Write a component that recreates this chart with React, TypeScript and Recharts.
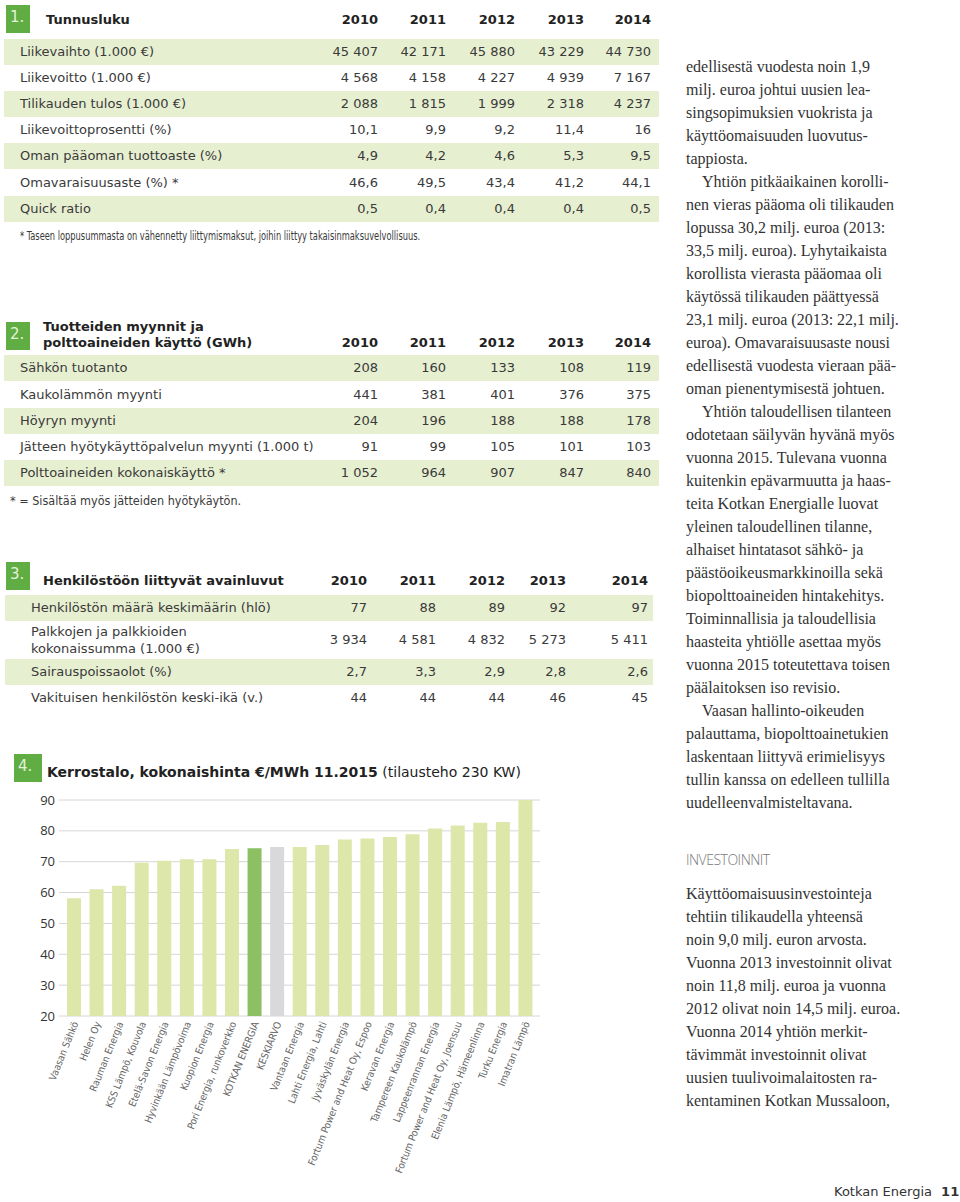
import React from 'react';
import { BarChart, Bar, XAxis, YAxis, CartesianGrid, Cell } from 'recharts';

// Taulukko 1
const t1Years = ['2010', '2011', '2012', '2013', '2014'];
const t1Labels = [
  'Liikevaihto (1.000 €)',
  'Liikevoitto (1.000 €)',
  'Tilikauden tulos (1.000 €)',
  'Liikevoittoprosentti (%)',
  'Oman pääoman tuottoaste (%)',
  'Omavaraisuusaste (%) *',
  'Quick ratio',
];
const t1Values = [
  ['45 407', '42 171', '45 880', '43 229', '44 730'],
  ['4 568', '4 158', '4 227', '4 939', '7 167'],
  ['2 088', '1 815', '1 999', '2 318', '4 237'],
  ['10,1', '9,9', '9,2', '11,4', '16'],
  ['4,9', '4,2', '4,6', '5,3', '9,5'],
  ['46,6', '49,5', '43,4', '41,2', '44,1'],
  ['0,5', '0,4', '0,4', '0,4', '0,5'],
];

// Taulukko 2
const t2Labels = [
  'Sähkön tuotanto',
  'Kaukolämmön myynti',
  'Höyryn myynti',
  'Jätteen hyötykäyttöpalvelun myynti (1.000 t)',
  'Polttoaineiden kokonaiskäyttö *',
];
const t2Values = [
  ['208', '160', '133', '108', '119'],
  ['441', '381', '401', '376', '375'],
  ['204', '196', '188', '188', '178'],
  ['91', '99', '105', '101', '103'],
  ['1 052', '964', '907', '847', '840'],
];

// Taulukko 3
const t3Labels = [
  ['Henkilöstön määrä keskimäärin (hlö)'],
  ['Palkkojen ja palkkioiden', 'kokonaissumma (1.000 €)'],
  ['Sairauspoissaolot (%)'],
  ['Vakituisen henkilöstön keski-ikä (v.)'],
];
const t3Values = [
  ['77', '88', '89', '92', '97'],
  ['3 934', '4 581', '4 832', '5 273', '5 411'],
  ['2,7', '3,3', '2,9', '2,8', '2,6'],
  ['44', '44', '44', '46', '45'],
];

// Kaavio 4
const companies = [
  'Vaasan Sähkö',
  'Helen Oy',
  'Rauman Energia',
  'KSS Lämpö, Kouvola',
  'Etelä-Savon Energia',
  'Hyvinkään Lämpövoima',
  'Kuopion Energia',
  'Pori Energia, runkoverkko',
  'KOTKAN ENERGIA',
  'KESKIARVO',
  'Vantaan Energia',
  'Lahti Energia, Lahti',
  'Jyväskylän Energia',
  'Fortum Power and Heat Oy, Espoo',
  'Keravan Energia',
  'Tampereen Kaukolämpö',
  'Lappeenrannan Energia',
  'Fortum Power and Heat Oy, Joensuu',
  'Elenia Lämpö, Hämeenlinna',
  'Turku Energia',
  'Imatran Lämpö',
];
const prices = [58.2, 61.1, 62.2, 69.7, 70.3, 70.8, 70.8, 74.1, 74.4, 74.8, 74.8, 75.4, 77.2, 77.5, 78.0, 78.9, 80.8, 81.7, 82.6, 82.9, 90.0];
const yTicks = [20, 30, 40, 50, 60, 70, 80, 90];

const colText = [
  'edellisestä vuodesta noin 1,9',
  'milj. euroa johtui uusien lea-',
  'singsopimuksien vuokrista ja',
  'käyttöomaisuuden luovutus-',
  'tappiosta.',
  '>Yhtiön pitkäaikainen korolli-',
  'nen vieras pääoma oli tilikauden',
  'lopussa 30,2 milj. euroa (2013:',
  '33,5 milj. euroa). Lyhytaikaista',
  'korollista vierasta pääomaa oli',
  'käytössä tilikauden päättyessä',
  '23,1 milj. euroa (2013: 22,1 milj.',
  'euroa). Omavaraisuusaste nousi',
  'edellisestä vuodesta vieraan pää-',
  'oman pienentymisestä johtuen.',
  '>Yhtiön taloudellisen tilanteen',
  'odotetaan säilyvän hyvänä myös',
  'vuonna 2015. Tulevana vuonna',
  'kuitenkin epävarmuutta ja haas-',
  'teita Kotkan Energialle luovat',
  'yleinen taloudellinen tilanne,',
  'alhaiset hintatasot sähkö- ja',
  'päästöoikeusmarkkinoilla sekä',
  'biopolttoaineiden hintakehitys.',
  'Toiminnallisia ja taloudellisia',
  'haasteita yhtiölle asettaa myös',
  'vuonna 2015 toteutettava toisen',
  'päälaitoksen iso revisio.',
  '>Vaasan hallinto-oikeuden',
  'palauttama, biopolttoainetukien',
  'laskentaan liittyvä erimielisyys',
  'tullin kanssa on edelleen tullilla',
  'uudelleenvalmisteltavana.',
];
const investText = [
  'Käyttöomaisuusinvestointeja',
  'tehtiin tilikaudella yhteensä',
  'noin 9,0 milj. euron arvosta.',
  'Vuonna 2013 investoinnit olivat',
  'noin 11,8 milj. euroa ja vuonna',
  '2012 olivat noin 14,5 milj. euroa.',
  'Vuonna 2014 yhtiön merkit-',
  'tävimmät investoinnit olivat',
  'uusien tuulivoimalaitosten ra-',
  'kentaminen Kotkan Mussaloon,',
];

const SANS = '"DejaVu Sans", Verdana, sans-serif';
const NARROW = '"Liberation Sans Narrow", "DejaVu Sans Condensed", "Arial Narrow", sans-serif';
const SERIF = '"Liberation Serif", "Times New Roman", serif';
const GREEN = '#5fad43';
const STRIPE = '#e7efd1';
const TXT = '#3a3a3a';

const chartData = companies.map((name, i) => ({ name, value: prices[i] }));

const barColor = (name: string) =>
  name === 'KOTKAN ENERGIA' ? '#8cc063' : name === 'KESKIARVO' ? '#d9d9db' : '#dde7a9';

const Line = ({ x, y, children, style }: any) => (
  <div style={{ position: 'absolute', left: x, top: y - 10, lineHeight: '20px', height: 20, whiteSpace: 'nowrap', ...style }}>
    {children}
  </div>
);

const Num = ({ right, y, children, bold }: any) => (
  <div
    style={{
      position: 'absolute', left: right - 100, width: 100, top: y - 10, lineHeight: '20px',
      textAlign: 'right', fontWeight: bold ? 'bold' : 'normal', color: bold ? '#222' : TXT,
    }}
  >
    {children}
  </div>
);

const Box = ({ x = 6, y, label, w = 24 }: { x?: number; y: number; label: string; w?: number }) => (
  <div
    style={{
      position: 'absolute', left: x, top: y, width: w, height: 28, background: GREEN,
      color: '#e4f2da', fontFamily: SANS, fontSize: 15, lineHeight: '24px', paddingLeft: 4, boxSizing: 'border-box',
    }}
  >
    {label}
  </div>
);

const XTick = ({ x, y, payload }: any) => (
  <g transform={`translate(${x + 1},${y + 6}) rotate(-68)`}>
    <text textAnchor="end" dy="0.35em" fontSize={10} fill="#666" fontFamily={NARROW}>
      {payload.value}
    </text>
  </g>
);

const cols12 = [378, 446, 515, 584, 651];
const cols3 = [367, 436, 505, 566, 648];

export default function App() {
  const t1Rows = t1Labels.map((_, i) => 51.5 + i * 26.2);
  const t2Rows = t2Labels.map((_, i) => 368.3 + i * 26.2);
  const t3Rows = [608.3, 640, 672.3, 698.3];
  const t3Bands = [[595, 621], [621, 659], [659, 685], [685, 711]];

  return (
    <div style={{ position: 'absolute', left: 0, top: 0, width: 960, height: 1202, background: '#fff', fontFamily: SANS, fontSize: 13, color: TXT, overflow: 'hidden' }}>
      {/* 1. Tunnusluku */}
      <Box y={5} label="1." />
      <Line x={46} y={20} style={{ fontWeight: 'bold', color: '#222' }}>Tunnusluku</Line>
      {t1Years.map((yr, j) => <Num key={yr} right={cols12[j]} y={20} bold>{yr}</Num>)}
      {t1Rows.map((cy, i) => (
        <React.Fragment key={i}>
          {i % 2 === 0 && <div style={{ position: 'absolute', left: 4, width: 655, top: cy - 13, height: 26, background: STRIPE }} />}
          <Line x={20} y={cy}>{t1Labels[i]}</Line>
          {t1Values[i].map((v, j) => <Num key={j} right={cols12[j]} y={cy}>{v}</Num>)}
        </React.Fragment>
      ))}
      <Line x={20} y={236} style={{ fontFamily: NARROW, fontSize: 11.5 }}>
        <span style={{ display: 'inline-block', transform: 'scaleX(0.8)', transformOrigin: 'left center' }}>
          * Taseen loppusummasta on vähennetty liittymismaksut, joihin liittyy takaisinmaksuvelvollisuus.
        </span>
      </Line>

      {/* 2. Tuotteiden myynnit */}
      <Box y={322} label="2." />
      <Line x={43} y={326.5} style={{ fontWeight: 'bold', color: '#222' }}>Tuotteiden myynnit ja</Line>
      <Line x={43} y={343.3} style={{ fontWeight: 'bold', color: '#222' }}>polttoaineiden käyttö (GWh)</Line>
      {t1Years.map((yr, j) => <Num key={yr} right={cols12[j]} y={343.3} bold>{yr}</Num>)}
      {t2Rows.map((cy, i) => (
        <React.Fragment key={i}>
          {i % 2 === 0 && <div style={{ position: 'absolute', left: 4, width: 655, top: cy - 13, height: 26, background: STRIPE }} />}
          <Line x={20} y={cy}>{t2Labels[i]}</Line>
          {t2Values[i].map((v, j) => <Num key={j} right={cols12[j]} y={cy}>{v}</Num>)}
        </React.Fragment>
      ))}
      <Line x={10} y={501} style={{ fontFamily: NARROW, fontSize: 12.5 }}>* = Sisältää myös jätteiden hyötykäytön.</Line>

      {/* 3. Henkilöstö */}
      <Box y={562} label="3." />
      <Line x={43} y={581} style={{ fontWeight: 'bold', color: '#222' }}>Henkilöstöön liittyvät avainluvut</Line>
      {t1Years.map((yr, j) => <Num key={yr} right={cols3[j]} y={581} bold>{yr}</Num>)}
      {t3Rows.map((cy, i) => (
        <React.Fragment key={i}>
          {i % 2 === 0 && <div style={{ position: 'absolute', left: 5, width: 648, top: t3Bands[i][0], height: t3Bands[i][1] - t3Bands[i][0], background: STRIPE }} />}
          {t3Labels[i].length === 1 ? (
            <Line x={31} y={cy}>{t3Labels[i][0]}</Line>
          ) : (
            <>
              <Line x={31} y={cy - 8.5}>{t3Labels[i][0]}</Line>
              <Line x={31} y={cy + 8.5}>{t3Labels[i][1]}</Line>
            </>
          )}
          {t3Values[i].map((v, j) => <Num key={j} right={cols3[j]} y={cy}>{v}</Num>)}
        </React.Fragment>
      ))}

      {/* 4. Kerrostalo */}
      <Box x={14} y={754} w={28} label="4." />
      <Line x={47} y={772} style={{ fontSize: 14, color: '#222' }}>
        <b>Kerrostalo, kokonaishinta €/MWh 11.2015</b> (tilausteho 230 KW)
      </Line>
      <div style={{ position: 'absolute', left: 0, top: 785 }}>
        <BarChart width={560} height={410} data={chartData} margin={{ top: 15, right: 20, left: 0, bottom: 0 }}>
          <CartesianGrid horizontal vertical={false} stroke="#d6d6d6" />
          <XAxis
            dataKey="name"
            interval={0}
            axisLine={false}
            tickLine={false}
            tickSize={0}
            tickMargin={0}
            height={179}
            padding={{ left: 4, right: 3 }}
            tick={<XTick />}
          />
          <YAxis
            domain={[20, 90]}
            ticks={yTicks}
            width={59}
            axisLine={false}
            tickLine={false}
            tickSize={0}
            tickMargin={4}
            tick={{ fontSize: 13, fill: '#333', fontFamily: '"Open Sans", sans-serif' }}
          />
          <Bar dataKey="value" barSize={14} isAnimationActive={false}>
            {chartData.map((d) => (
              <Cell key={d.name} fill={barColor(d.name)} />
            ))}
          </Bar>
        </BarChart>
      </div>

      {/* Oikea palsta */}
      {colText.map((l, i) => (
        <Line key={i} x={686} y={66.7 + i * 23} style={{ fontFamily: SERIF, fontSize: 16, color: '#333' }}>
          {l.startsWith('>') ? <span style={{ paddingLeft: 16 }}>{l.slice(1)}</span> : l}
        </Line>
      ))}
      <Line x={686} y={860} style={{ fontFamily: '"Open Sans", sans-serif', fontSize: 14, color: '#777', fontWeight: 300, letterSpacing: -0.5 }}>INVESTOINNIT</Line>
      {investText.map((l, i) => (
        <Line key={i} x={686} y={894 + i * 23} style={{ fontFamily: SERIF, fontSize: 16, color: '#333' }}>{l}</Line>
      ))}
      <Line x={834} y={1192} style={{ fontSize: 13, color: '#333' }}>
        Kotkan Energia <b style={{ marginLeft: 5 }}>11</b>
      </Line>
    </div>
  );
}
